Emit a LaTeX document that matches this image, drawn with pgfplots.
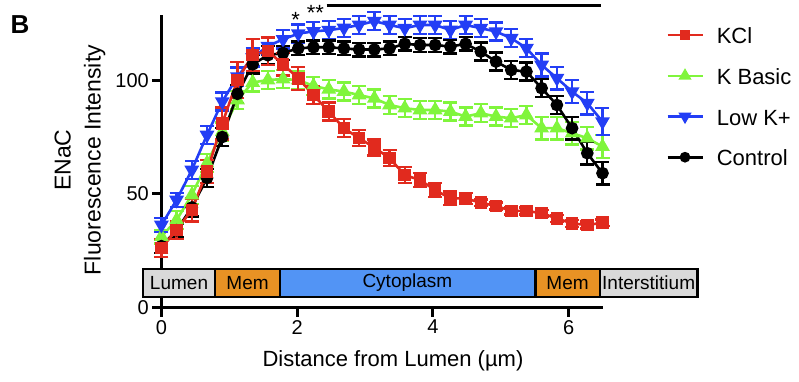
\documentclass[border=0pt]{standalone}
\usepackage{pgfplots}
\usepackage{pgfplotstable}
\pgfplotsset{compat=1.18}
\usepackage{fontspec}
\setmainfont{Liberation Sans}
\definecolor{cKCl}{RGB}{225,42,30}
\definecolor{cKB}{RGB}{128,245,60}
\definecolor{cLow}{RGB}{35,62,245}
\definecolor{bandgray}{RGB}{217,217,217}
\definecolor{bandorange}{RGB}{232,146,36}
\definecolor{bandblue}{RGB}{82,148,245}

\pgfplotstableread{
x y e
0.000 26.2 4
0.224 34.1 4
0.448 42.9 5
0.672 59.8 5
0.897 81.0 7
1.121 100.1 8
1.345 111.1 7
1.569 112.8 6
1.793 107.0 5
2.017 100.8 5
2.241 93.5 4
2.466 86.2 4
2.690 78.9 4
2.914 74.5 3.5
3.138 70.4 3.5
3.362 65.7 3.5
3.586 58.3 3.5
3.810 56.1 3
4.034 51.7 3
4.259 48.0 3
4.483 48.0 2.5
4.707 46.1 1.5
4.931 44.7 1.5
5.155 42.5 1.5
5.379 42.5 1.5
5.603 41.5 1.5
5.828 39.2 1.5
6.052 37.0 1.5
6.276 36.3 1.5
6.500 37.3 1.5
}\tKCl

\pgfplotstableread{
x y e
0.000 31.2 3
0.224 38.5 4
0.448 49.5 4
0.672 63.5 4
0.897 77.4 4
1.121 91.3 4
1.345 99.0 4
1.569 100.1 4
1.793 100.5 4
2.017 100.1 4
2.241 97.5 4
2.466 96.0 4
2.690 95.0 4
2.914 93.5 4
3.138 92.0 4
3.362 89.1 4
3.586 87.7 4
3.810 86.9 4
4.034 86.9 4
4.259 86.2 4
4.483 84.0 4
4.707 85.5 4
4.931 84.0 4
5.155 83.3 4
5.379 84.7 4
5.603 78.9 5
5.828 78.9 5
6.052 76.7 5
6.276 74.5 5
6.500 70.8 5
}\tKB

\pgfplotstableread{
x y e
0.000 36.3 3
0.224 47.3 3
0.448 60.5 4
0.672 75.9 4
0.897 90.6 4
1.121 101.6 4
1.345 110.0 4
1.569 115.0 4
1.793 118.0 4
2.017 120.5 4
2.241 121.5 4
2.466 122.0 4
2.690 123.0 4
2.914 124.3 4
3.138 126.0 4
3.362 124.3 4
3.586 122.9 4
3.810 124.3 4
4.034 124.3 4
4.259 122.1 4
4.483 124.3 4
4.707 122.9 4
4.931 121.4 4
5.155 118.5 4
5.379 114.1 4
5.603 106.7 5
5.828 100.9 5
6.052 95.0 5
6.276 89.9 5
6.500 81.8 6
}\tLow

\pgfplotstableread{
x y e
0.000 27.0 3
0.224 34.0 3
0.448 44.0 4
0.672 57.0 4
0.897 75.0 4
1.121 94.0 4
1.345 107.0 4
1.569 111.0 4
1.793 112.0 3
2.017 114.0 3
2.241 114.5 3
2.466 114.5 3
2.690 114.0 3
2.914 113.5 3
3.138 113.5 3
3.362 114.0 3
3.586 116.0 3
3.810 115.5 3
4.034 115.5 3
4.259 114.8 3
4.483 116.0 3
4.707 112.6 4
4.931 108.2 4
5.155 104.5 4
5.379 103.8 4
5.603 96.5 4
5.828 89.1 4
6.052 78.9 5
6.276 67.9 5
6.500 59.1 5
}\tCtl

\begin{document}
\begin{tikzpicture}
\useasboundingbox (-161.4pt,-73.5pt) rectangle (637.6pt,307.5pt);
\begin{axis}[
  scale only axis,
  width=441.1pt, height=292.5pt,
  xmin=0, xmax=6.5, ymin=0, ymax=128.7,
  clip=false,
  axis x line=bottom, axis y line=left,
  axis line style={line width=3pt, -},
  xtick={0,2,4,6}, ytick={0,50,100},
  tick style={line width=3pt, black},
  major tick length=9pt,
  tick align=outside,
  /pgf/number format/assume math mode=true,
  ticklabel style={font=\fontsize{20}{24}\selectfont},
  xlabel={Distance from Lumen (µm)},
  xlabel style={font=\fontsize{22}{26}\selectfont, at={(axis description cs:0.525,-0.183)}, anchor=center},
  ylabel={ENaC\\Fluorescence Intensity},
  ylabel style={align=center, font=\fontsize{23}{30}\selectfont, at={(axis description cs:-0.1845,0.504)}, anchor=center},
  legend image code/.code={\draw[mark repeat=2,mark phase=2,#1] plot coordinates {(0pt,0pt) (17.5pt,0pt) (35pt,0pt)};},
  legend style={at={(axis description cs:1.144,0.961)}, anchor=north west, draw=none, fill=none, inner sep=0pt,
    font=\fontsize{22}{26}\selectfont, row sep=23.7pt,
    nodes={inner sep=0pt, text height=17pt, text depth=0pt},
    /tikz/every odd column/.append style={column sep=13pt}},
  legend cell align=left,
]
\addlegendimage{cKCl, line width=2.6pt, mark=square*, mark size=4pt}
\addlegendentry{KCl}
\addlegendimage{cKB, line width=2.6pt, mark=triangle*, mark size=5pt}
\addlegendentry{K Basic}
\addlegendimage{cLow, line width=2.6pt, mark=triangle*, mark size=5pt, mark options={rotate=180}}
\addlegendentry{Low K+}
\addlegendimage{black, line width=2.6pt, mark=*, mark size=4pt}
\addlegendentry{Control}

% band
\draw[fill=bandgray, line width=2.5pt] (axis cs:-0.27,4.6) rectangle (axis cs:0.79,16.9);
\draw[fill=bandorange, line width=2.5pt] (axis cs:0.79,4.6) rectangle (axis cs:1.75,16.9);
\draw[fill=bandblue, line width=2.5pt] (axis cs:1.75,4.6) rectangle (axis cs:5.51,16.9);
\draw[fill=bandorange, line width=2.5pt] (axis cs:5.51,4.6) rectangle (axis cs:6.46,16.9);
\draw[fill=bandgray, line width=2.5pt] (axis cs:6.46,4.6) rectangle (axis cs:7.9,16.9);
\begin{scope}[font=\fontsize{19}{22}\selectfont]
\node at (axis cs:0.26,10.75) {Lumen};
\node at (axis cs:1.27,10.75) {Mem};
\node at (axis cs:3.625,10.75) {Cytoplasm};
\node at (axis cs:5.985,10.75) {Mem};
\node at (axis cs:7.18,10.75) {Interstitium};
\end{scope}

\addplot[forget plot, cKB, line width=2.6pt, mark=triangle*, mark size=6pt, mark options={solid}, 
  error bars/.cd, y dir=both, y explicit, error bar style={line width=2.4pt, cKB}, error mark options={rotate=90, line width=2.4pt, mark size=7pt, cKB}]
  table[x=x, y=y, y error=e] {\tKB};
\addplot[forget plot, cLow, line width=2.6pt, mark=triangle*, mark size=6pt, mark options={solid, rotate=180},
  error bars/.cd, y dir=both, y explicit, error bar style={line width=2.4pt, cLow}, error mark options={rotate=90, line width=2.4pt, mark size=7pt, cLow}]
  table[x=x, y=y, y error=e] {\tLow};
\addplot[forget plot, black, line width=2.6pt, mark=*, mark size=5pt, mark options={solid},
  error bars/.cd, y dir=both, y explicit, error bar style={line width=2.4pt, black}, error mark options={rotate=90, line width=2.4pt, mark size=7pt, black}]
  table[x=x, y=y, y error=e] {\tCtl};
\addplot[forget plot, cKCl, line width=2.6pt, mark=square*, mark size=5pt, mark options={solid},
  error bars/.cd, y dir=both, y explicit, error bar style={line width=2.4pt, cKCl}, error mark options={rotate=90, line width=2.4pt, mark size=7pt, cKCl}]
  table[x=x, y=y, y error=e] {\tKCl};

% significance
\node[anchor=base, font=\fontsize{22}{24}\selectfont] at (axis cs:1.98,123.3) {*};
\node[anchor=base, font=\fontsize{22}{24}\selectfont] at (axis cs:2.27,126.4) {**};
\draw[line width=2.5pt] (axis cs:2.435,132.8) -- (axis cs:6.475,132.8);

\node[font=\fontsize{26}{30}\selectfont\bfseries] at (axis cs:-2.084,124.3) {B};
\end{axis}
\end{tikzpicture}
\end{document}
